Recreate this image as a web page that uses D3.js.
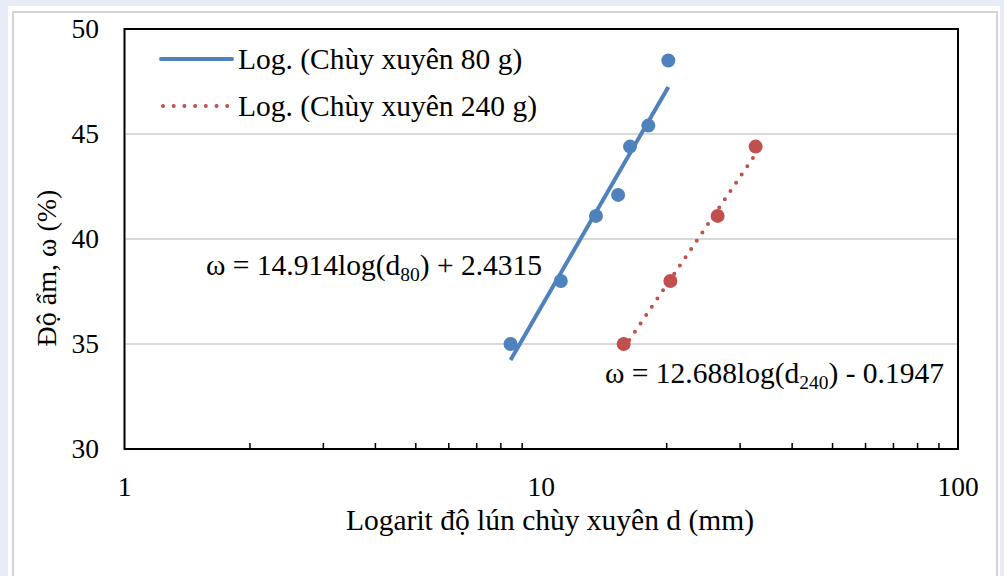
<!DOCTYPE html>
<html>
<head>
<meta charset="utf-8">
<script src="https://cdn.jsdelivr.net/npm/d3@7"></script>
<style>
  body { margin: 0; background: #e8ecf6; }
  svg { display: block; }
  text { font-family: "Liberation Serif", "Times New Roman", serif; fill: #000; }
</style>
</head>
<body>
<svg id="svg" width="1004" height="576"></svg>
<script>
// Data
const d80 = [8.44, 11.14, 13.53, 15.29, 16.33, 18.07, 20.18];
const w80 = [35.0, 38.0, 41.1, 42.1, 44.4, 45.4, 48.5];
const d240 = [15.77, 20.41, 26.50, 32.69];
const w240 = [35.0, 38.0, 41.1, 44.4];

// Trend line coefficients (Excel log trendline: a*ln(d) + b)
const fit80 = [14.914, 2.4315];
const fit240 = [12.688, -0.1947];

const xTicks = [1, 10, 100];
const yTicks = [30, 35, 40, 45, 50];
const legendLabels = ["Log. (Chùy xuyên 80 g)", "Log. (Chùy xuyên 240 g)"];

const blue = "#4f81bd";
const red = "#c0504d";
const fs = 29.5;

const svg = d3.select("#svg");

// background panel
svg.append("rect").attr("x", 8).attr("y", 6).attr("width", 992).attr("height", 580).attr("fill", "#fff");
svg.append("rect").attr("x", 13).attr("y", 12).attr("width", 984).attr("height", 580)
    .attr("fill", "#fff").attr("stroke", "#d4d4d4").attr("stroke-width", 2);

const x = d3.scaleLog().domain([1, 100]).range([124.5, 958]);
const y = d3.scaleLinear().domain([30, 50]).range([449, 29]);

// gridlines
svg.append("g").selectAll("line")
    .data(yTicks.filter(v => v > 30 && v < 50))
    .join("line")
    .attr("x1", x(1)).attr("x2", x(100))
    .attr("y1", d => y(d)).attr("y2", d => y(d))
    .attr("stroke", "#d9d9d9").attr("stroke-width", 2);

// x minor ticks (inside)
const minor = d3.range(2, 10).concat(d3.range(20, 100, 10));
svg.append("g").selectAll("line")
    .data(minor)
    .join("line")
    .attr("x1", d => x(d)).attr("x2", d => x(d))
    .attr("y1", y(30)).attr("y2", y(30) - 6)
    .attr("stroke", "#000").attr("stroke-width", 1.5);

// frame
svg.append("rect")
    .attr("x", x(1)).attr("y", y(50))
    .attr("width", x(100) - x(1)).attr("height", y(30) - y(50))
    .attr("fill", "none").attr("stroke", "#000").attr("stroke-width", 2);

// tick labels
svg.append("g").selectAll("text")
    .data(xTicks)
    .join("text")
    .attr("x", d => x(d)).attr("y", y(30) + 47)
    .attr("text-anchor", "middle").attr("font-size", 27.5)
    .text(d => d);

svg.append("g").selectAll("text")
    .data(yTicks)
    .join("text")
    .attr("x", 99).attr("y", d => y(d) + 9)
    .attr("text-anchor", "end").attr("font-size", 27.5)
    .text(d => d);

// axis titles
svg.append("text")
    .attr("x", 550).attr("y", 530)
    .attr("text-anchor", "middle").attr("font-size", fs)
    .text("Logarit độ lún chùy xuyên d (mm)");

svg.append("text")
    .attr("transform", "translate(56,268) rotate(-90)")
    .attr("text-anchor", "middle").attr("font-size", 28)
    .text("Độ ẩm, ω (%)");

// trend lines
const line = d3.line().x(d => x(d[0])).y(d => y(d[1]));
function trend(ds, fit) {
  const ext = d3.extent(ds);
  return ext.map(d => [d, fit[0] * Math.log(d) + fit[1]]);
}

svg.append("path")
    .datum(trend(d80, fit80))
    .attr("d", line)
    .attr("fill", "none").attr("stroke", blue).attr("stroke-width", 4);

svg.append("path")
    .datum(trend(d240, fit240))
    .attr("d", line)
    .attr("fill", "none").attr("stroke", red).attr("stroke-width", 4)
    .attr("stroke-linecap", "round").attr("stroke-dasharray", "0 10");

// points
svg.append("g").selectAll("circle")
    .data(d80.map((d, i) => [d, w80[i]]))
    .join("circle")
    .attr("cx", d => x(d[0])).attr("cy", d => y(d[1])).attr("r", 7)
    .attr("fill", blue);

svg.append("g").selectAll("circle")
    .data(d240.map((d, i) => [d, w240[i]]))
    .join("circle")
    .attr("cx", d => x(d[0])).attr("cy", d => y(d[1])).attr("r", 7)
    .attr("fill", red);

// equations
function equation(tx, ty, coef, sub, sign, c) {
  const t = svg.append("text").attr("x", tx).attr("y", ty).attr("font-size", fs);
  t.append("tspan").text("ω = " + coef + "log(d");
  t.append("tspan").attr("font-size", 19.5).attr("dy", 6).text(sub);
  t.append("tspan").attr("dy", -6).text(") " + sign + " " + c);
}
equation(206, 275, fit80[0].toFixed(3), "80", "+", fit80[1]);
equation(605, 383, fit240[0].toFixed(3), "240", "-", Math.abs(fit240[1]));

// legend
const legend = svg.append("g");
legend.append("line").attr("x1", 161).attr("x2", 232).attr("y1", 59).attr("y2", 59)
    .attr("stroke", blue).attr("stroke-width", 4).attr("stroke-linecap", "round");
legend.append("line").attr("x1", 163).attr("x2", 232).attr("y1", 106).attr("y2", 106)
    .attr("stroke", red).attr("stroke-width", 4).attr("stroke-linecap", "round")
    .attr("stroke-dasharray", "0 10.7");
legend.selectAll("text")
    .data(legendLabels)
    .join("text")
    .attr("x", 238).attr("y", (d, i) => 69 + i * 47)
    .attr("font-size", fs)
    .text(d => d);
</script>
</body>
</html>
